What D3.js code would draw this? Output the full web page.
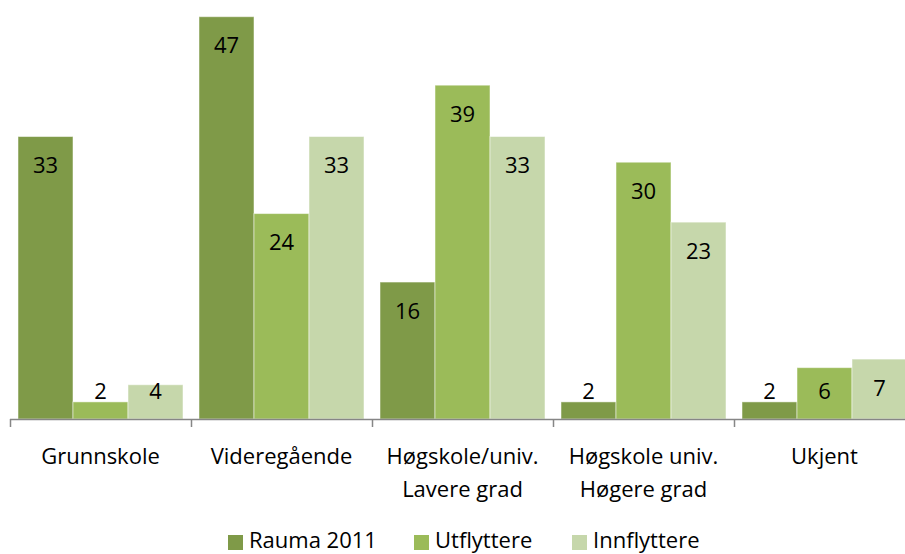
<!DOCTYPE html>
<html>
<head>
<meta charset="utf-8">
<script src="https://cdn.jsdelivr.net/npm/d3@7.9.0/dist/d3.min.js"></script>
<style>
  body { margin: 0; background: #fff; }
  svg { display: block; font-family: 'Open Sans', 'Liberation Sans', sans-serif; }
</style>
</head>
<body>
<svg width="905" height="554"></svg>
<script>
const categories = [
  ['Grunnskole'],
  ['Videregående'],
  ['Høgskole/univ.', 'Lavere grad'],
  ['Høgskole univ.', 'Høgere grad'],
  ['Ukjent']
];
const seriesNames = ['Rauma 2011', 'Utflyttere', 'Innflyttere'];
const rauma = [33, 47, 16, 2, 2];
const utflyttere = [2, 24, 39, 30, 6];
const innflyttere = [4, 33, 33, 23, 7];
const colors = ['#7f9a48', '#9bbb59', '#c6d7ab'];

const seriesValues = [rauma, utflyttere, innflyttere];
const catKeys = categories.map((c) => c.join(' '));

const svg = d3.select('svg');
const baseY = 419;

const x = d3.scaleBand().domain(catKeys).range([10, 915]);
const xInner = d3.scaleBand().domain(seriesNames).range([8, x.bandwidth() - 8]);
const y = d3.scaleLinear().domain([0, 47]).range([baseY, 16.7]);

const groups = svg.selectAll('g.group')
  .data(catKeys)
  .join('g')
  .attr('class', 'group')
  .attr('transform', (d) => `translate(${x(d)},0)`);

seriesNames.forEach((name, si) => {
  groups.append('rect')
    .attr('x', xInner(name))
    .attr('width', xInner.bandwidth())
    .attr('y', (d, i) => y(seriesValues[si][i]))
    .attr('height', (d, i) => baseY - y(seriesValues[si][i]))
    .attr('fill', colors[si])
    .attr('stroke', 'rgba(255,255,255,0.5)')
    .attr('stroke-width', 1);

  groups.append('text')
    .attr('x', xInner(name) + xInner.bandwidth() / 2)
    .attr('y', (d, i) => Math.min(y(seriesValues[si][i]) + 29, 391))
    .attr('dy', '0.35em')
    .attr('text-anchor', 'middle')
    .attr('font-size', 22)
    .attr('fill', '#000')
    .text((d, i) => seriesValues[si][i]);
});

// axis line and ticks at group edges
svg.append('line')
  .attr('x1', 10).attr('x2', 915)
  .attr('y1', baseY + 0.5).attr('y2', baseY + 0.5)
  .attr('stroke', '#868686').attr('stroke-width', 1.5);

const edges = catKeys.map((c) => x(c)).concat([x.range()[1]]);
svg.selectAll('line.tick')
  .data(edges)
  .join('line')
  .attr('class', 'tick')
  .attr('x1', (d) => Math.round(d) + 0.5).attr('x2', (d) => Math.round(d) + 0.5)
  .attr('y1', baseY).attr('y2', baseY + 8)
  .attr('stroke', '#868686').attr('stroke-width', 1.5);

// category labels
categories.forEach((lines, i) => {
  const t = svg.append('text')
    .attr('x', x(catKeys[i]) + x.bandwidth() / 2)
    .attr('y', 464)
    .attr('text-anchor', 'middle')
    .attr('font-size', 22)
    .attr('fill', '#000');
  lines.forEach((line, li) => {
    t.append('tspan')
      .attr('x', x(catKeys[i]) + x.bandwidth() / 2)
      .attr('dy', li === 0 ? 0 : 33)
      .text(line);
  });
});

// legend
const legendX = [228, 414, 572];
seriesNames.forEach((name, i) => {
  svg.append('rect')
    .attr('x', legendX[i]).attr('y', 535)
    .attr('width', 15).attr('height', 15)
    .attr('fill', colors[i]);
  svg.append('text')
    .attr('x', legendX[i] + 21).attr('y', 548)
    .attr('font-size', 22)
    .attr('fill', '#000')
    .text(name);
});
</script>
</body>
</html>
